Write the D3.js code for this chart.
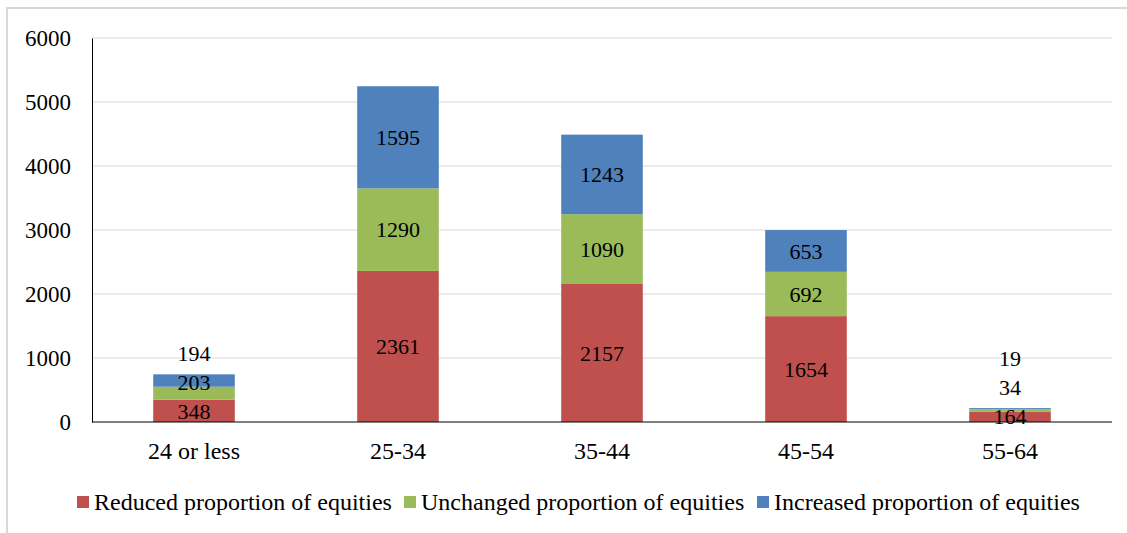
<!DOCTYPE html>
<html>
<head>
<meta charset="utf-8">
<script src="https://cdn.jsdelivr.net/npm/d3@7.9.0/dist/d3.min.js"></script>
<style>
  body { margin: 0; background: #fff; }
  svg text { font-family: "Liberation Serif", "Times New Roman", serif; fill: #000; }
</style>
</head>
<body>
<svg width="1127" height="533"></svg>
<script>
// chart data
const ageGroups = ['24 or less', '25-34', '35-44', '45-54', '55-64'];
const reduced = [348, 2361, 2157, 1654, 164];
const unchanged = [203, 1290, 1090, 692, 34];
const increased = [194, 1595, 1243, 653, 19];
const seriesNames = ['Reduced proportion of equities', 'Unchanged proportion of equities', 'Increased proportion of equities'];
const seriesColors = ['#C0504D', '#9BBB59', '#4F81BD'];
const yTicks = [0, 1000, 2000, 3000, 4000, 5000, 6000];

const svg = d3.select('svg');

// outer frame (only top and left edges are visible)
svg.append('rect')
  .attr('x', 7).attr('y', 8).attr('width', 1130).attr('height', 540)
  .attr('fill', 'none').attr('stroke', '#d9d9d9').attr('stroke-width', 2);

const plotLeft = 92, plotRight = 1112, plotTop = 38, plotBottom = 422;

const x = d3.scaleBand().domain(ageGroups).range([plotLeft, plotRight]).paddingInner(0.6).paddingOuter(0.3);
const y = d3.scaleLinear().domain([0, 6000]).range([plotBottom, plotTop]);

// gridlines
svg.append('g').selectAll('line').data(yTicks.filter(t => t > 0)).join('line')
  .attr('x1', plotLeft).attr('x2', plotRight)
  .attr('y1', d => y(d)).attr('y2', d => y(d))
  .attr('stroke', '#d9d9d9').attr('stroke-width', 1);

// stacked data
const rows = ageGroups.map((g, i) => ({ group: g, r: reduced[i], u: unchanged[i], inc: increased[i] }));
const stack = d3.stack().keys(['r', 'u', 'inc']);
const layers = stack(rows);

layers.forEach((layer, li) => {
  svg.append('g').selectAll('rect').data(layer).join('rect')
    .attr('x', d => x(d.data.group))
    .attr('width', x.bandwidth())
    .attr('y', d => y(d[1]))
    .attr('height', d => y(d[0]) - y(d[1]))
    .attr('fill', seriesColors[li]);
});

// data labels, nudged up when segments are too thin
const minGap = 29;
ageGroups.forEach((g, i) => {
  let prev = null;
  layers.forEach(layer => {
    const d = layer[i];
    let cy = (y(d[0]) + y(d[1])) / 2;
    if (prev !== null && prev - cy < minGap) cy = prev - minGap;
    prev = cy;
    svg.append('text')
      .attr('x', x(g) + x.bandwidth() / 2)
      .attr('y', cy)
      .attr('dy', '0.35em')
      .attr('text-anchor', 'middle')
      .attr('font-size', 22)
      .text(d[1] - d[0]);
  });
});

// axes
const yAxis = svg.append('g').attr('transform', `translate(${plotLeft},0)`)
  .call(d3.axisLeft(y).tickValues(yTicks).tickSize(0).tickPadding(21).tickFormat(d3.format('d')));
yAxis.select('.domain').attr('stroke', '#000');
yAxis.selectAll('text').attr('font-size', 23);

const xAxis = svg.append('g').attr('transform', `translate(0,${plotBottom})`)
  .call(d3.axisBottom(x).tickSize(0).tickPadding(20));
xAxis.select('.domain').attr('d', `M${plotLeft},0H${plotRight}`).attr('stroke', '#000');
xAxis.selectAll('text').attr('font-size', 24);

// legend
const legendX = [77, 404, 757];
const legend = svg.append('g');
seriesNames.forEach((name, i) => {
  legend.append('rect')
    .attr('x', legendX[i]).attr('y', 496).attr('width', 12).attr('height', 12)
    .attr('fill', seriesColors[i]);
  legend.append('text')
    .attr('x', legendX[i] + 17).attr('y', 502).attr('dy', '0.35em')
    .attr('font-size', 24)
    .text(name);
});
</script>
</body>
</html>
